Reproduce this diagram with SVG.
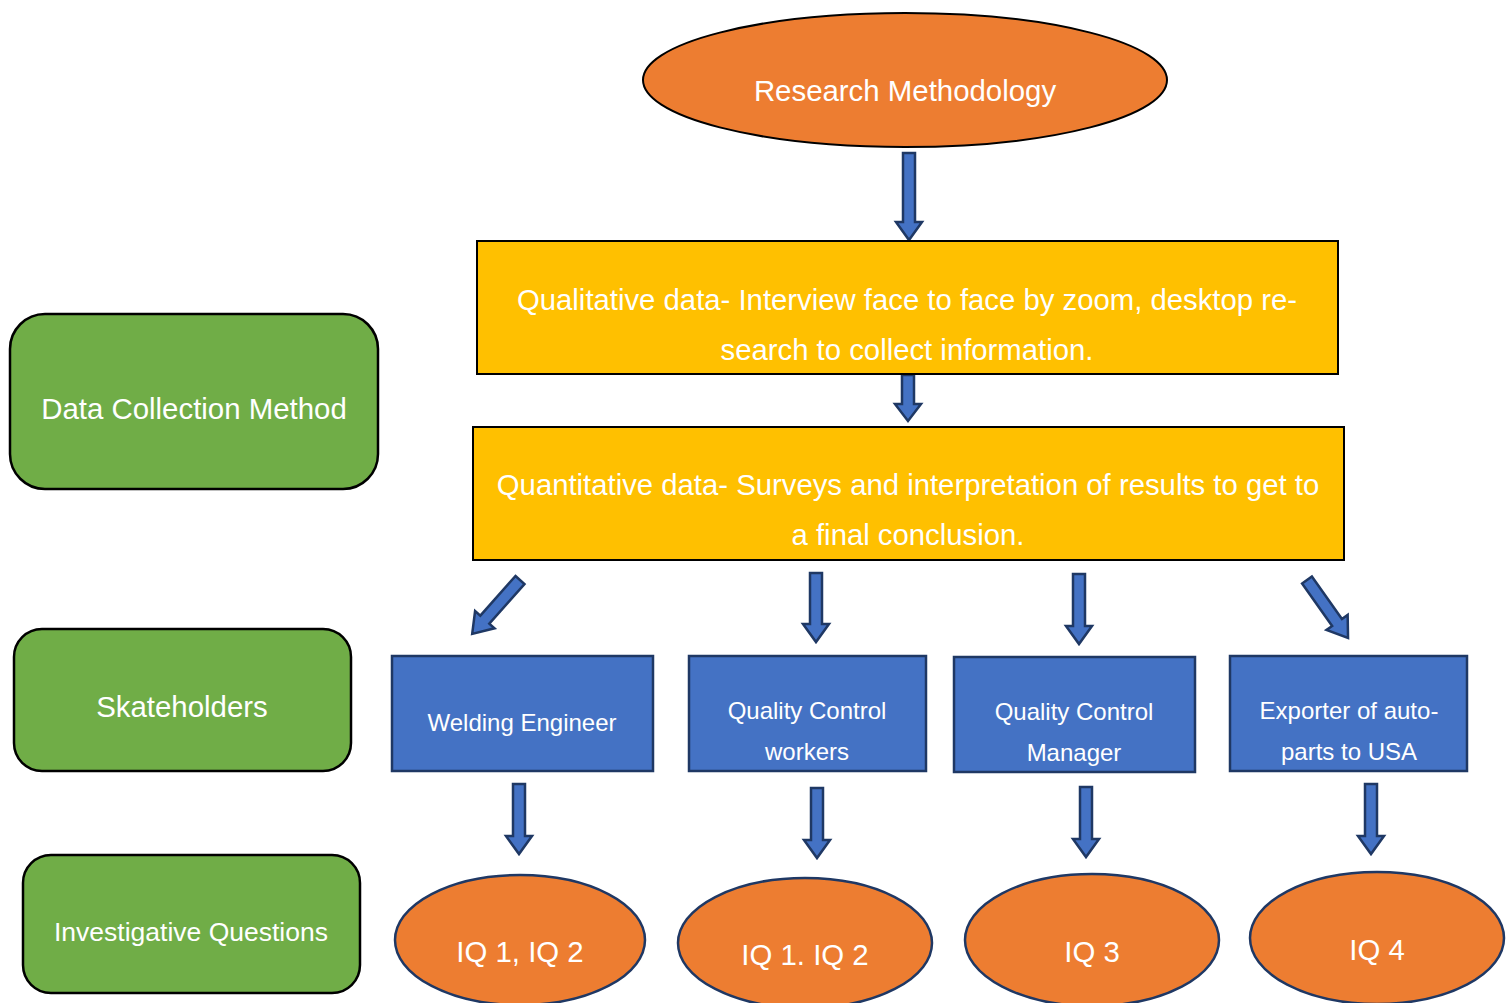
<svg xmlns="http://www.w3.org/2000/svg" width="1510" height="1003" viewBox="0 0 1510 1003">
<style>
text{font-family:"Liberation Sans",Arial,sans-serif;fill:#fff;text-anchor:middle}
.or{fill:#ED7D31}
.yb{fill:#FFC000;stroke:#000;stroke-width:2}
.gb{fill:#70AD47;stroke:#000;stroke-width:2.5}
.bb{fill:#4472C4;stroke:#1F3864;stroke-width:2.5}
.arr{fill:#4472C4;stroke:#1F3864;stroke-width:2.5;stroke-linejoin:miter}
</style>
<rect width="1510" height="1003" fill="#fff"/>
<g id="connectors">
<path class="arr" d="M903,153 H915 V222 H922 L909,240 L896,222 H903 Z"/>
<path class="arr" d="M902,375 H914 V404 H921 L908,421 L895,404 H902 Z"/>
<path class="arr" transform="translate(520,580) rotate(41.6)" d="M-6,0 H6 V53 H13 L0,72 L-13,53 H-6 Z"/>
<path class="arr" d="M810,573 H822 V624 H829 L816,642 L803,624 H810 Z"/>
<path class="arr" d="M1073,574 H1085 V626 H1092 L1079,644 L1066,626 H1073 Z"/>
<path class="arr" transform="translate(1307,580) rotate(-35.3)" d="M-6,0 H6 V52 H13 L0,71 L-13,52 H-6 Z"/>
<path class="arr" d="M513,784 H525 V836 H532 L519,854 L506,836 H513 Z"/>
<path class="arr" d="M811,788 H823 V840 H830 L817,858 L804,840 H811 Z"/>
<path class="arr" d="M1080,787 H1092 V839 H1099 L1086,857 L1073,839 H1080 Z"/>
<path class="arr" d="M1365,784 H1377 V836 H1384 L1371,854 L1358,836 H1365 Z"/>
</g>
<g id="research-methodology">
<ellipse class="or" cx="905" cy="80" rx="262" ry="67" stroke="#000" stroke-width="2"/>
<text x="905" y="101" font-size="29.4">Research Methodology</text>
</g>
<g id="qualitative">
<rect class="yb" x="477" y="241" width="861" height="133"/>
<text x="907" y="310" font-size="29.3">Qualitative data- Interview face to face by zoom, desktop re-</text>
<text x="907" y="360" font-size="29.3">search to collect information.</text>
</g>
<g id="quantitative">
<rect class="yb" x="473" y="427" width="871" height="133"/>
<text x="908" y="495" font-size="29.3">Quantitative data- Surveys and interpretation of results to get to</text>
<text x="908" y="545" font-size="29.3">a final conclusion.</text>
</g>
<g id="data-collection-method">
<rect class="gb" x="10" y="314" width="368" height="175" rx="35"/>
<text x="194" y="419" font-size="29.4">Data Collection Method</text>
</g>
<g id="skateholders">
<rect class="gb" x="14" y="629" width="337" height="142" rx="28"/>
<text x="182" y="717" font-size="29.4">Skateholders</text>
</g>
<g id="investigative-questions">
<rect class="gb" x="23" y="855" width="337" height="138" rx="28"/>
<text x="191" y="941" font-size="26.5">Investigative Questions</text>
</g>
<g id="welding-engineer">
<rect class="bb" x="392" y="656" width="261" height="115"/>
<text x="522" y="731" font-size="24">Welding Engineer</text>
</g>
<g id="qc-workers">
<rect class="bb" x="689" y="656" width="237" height="115"/>
<text x="807" y="719" font-size="24">Quality Control</text>
<text x="807" y="760" font-size="24">workers</text>
</g>
<g id="qc-manager">
<rect class="bb" x="954" y="657" width="241" height="115"/>
<text x="1074" y="720" font-size="24">Quality Control</text>
<text x="1074" y="761" font-size="24">Manager</text>
</g>
<g id="exporter">
<rect class="bb" x="1230" y="656" width="237" height="115"/>
<text x="1349" y="719" font-size="24">Exporter of auto-</text>
<text x="1349" y="760" font-size="24">parts to USA</text>
</g>
<g id="iq12a">
<ellipse class="or" cx="520" cy="940" rx="125" ry="65" stroke="#1F3864" stroke-width="2.5"/>
<text x="520" y="962" font-size="29.4">IQ 1, IQ 2</text>
</g>
<g id="iq12b">
<ellipse class="or" cx="805" cy="943" rx="127" ry="65" stroke="#1F3864" stroke-width="2.5"/>
<text x="805" y="965" font-size="29.4">IQ 1. IQ 2</text>
</g>
<g id="iq3">
<ellipse class="or" cx="1092" cy="940" rx="127" ry="66" stroke="#1F3864" stroke-width="2.5"/>
<text x="1092" y="962" font-size="29.4">IQ 3</text>
</g>
<g id="iq4">
<ellipse class="or" cx="1377" cy="938" rx="127" ry="66" stroke="#1F3864" stroke-width="2.5"/>
<text x="1377" y="960" font-size="29.4">IQ 4</text>
</g>
</svg>
